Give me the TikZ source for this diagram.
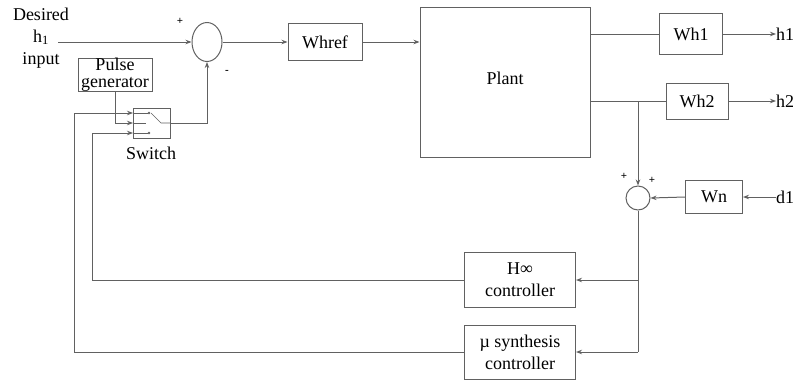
\documentclass[tikz,border=0pt]{standalone}
\usepackage{fontspec}
\setmainfont{Liberation Serif}
\usetikzlibrary{arrows.meta,shapes.geometric}
\definecolor{lc}{gray}{0.38}
\begin{document}
\begin{tikzpicture}[x=1pt,y=-1pt,
  every node/.style={font=\fontsize{18}{22}\selectfont, text=black},
  blk/.style={draw=lc, line width=1pt, inner sep=0pt, align=center},
  sumc/.style={draw=lc, line width=1pt, ellipse, inner sep=0pt},
  wire/.style={draw=lc, line width=1pt},
  arr/.style={wire, -{Stealth[length=6pt,width=4.5pt]}},
  sgn/.style={font=\fontsize{11}{12}\selectfont\bfseries, inner sep=0pt},
  lbl/.style={inner sep=0pt, align=center}
]
\useasboundingbox (0,0) rectangle (795,381);

% input label
\node[lbl] (din) at (41,38) {Desired\\h\textsubscript{1}\\input};
\coordinate (inp) at (58,42);

% blocks
\node[sumc, minimum width=30, minimum height=39] (s1) at (207,42) {};
\node[blk, minimum width=74, minimum height=37] (whref) at (325,42) {Whref};
\node[blk, minimum width=170, minimum height=150, text depth=8pt] (plant) at (505,82) {Plant};
\node[blk, minimum width=63, minimum height=41] (wh1) at (691,34) {Wh1};
\node[blk, minimum width=62, minimum height=36] (wh2) at (697,101) {Wh2};
\node[sumc, minimum width=24, minimum height=24] (s2) at (638,198) {};
\node[blk, minimum width=57, minimum height=33] (wn) at (714,197) {Wn};
\node[blk, minimum width=111, minimum height=55] (hinf) at (520,280) {H∞\\controller};
\node[blk, minimum width=111, minimum height=54] (mu) at (520,352) {µ synthesis\\controller};
\node[blk, minimum width=74, minimum height=30, font=\fontsize{18}{17}\selectfont] (pg) at (115,75) {Pulse\\generator};
\node[blk, minimum width=37, minimum height=30] (sw) at (151.5,123) {};
\node[lbl] (swl) at (151,153) {Switch};

% output labels
\node[lbl, anchor=west] (h1) at (776,34) {h1};
\node[lbl, anchor=west] (h2) at (776,101) {h2};
\node[lbl, anchor=west] (d1) at (776,197) {d1};

% signs
\node[sgn] (p1) at (180,21) {+};
\node[sgn] (m1) at (227,72) {-};
\node[sgn] (p2) at (624,176) {+};
\node[sgn] (p3) at (652,180) {+};

% switch inputs and internals
\coordinate (swin1) at (133,113);
\coordinate (swin2) at (133,123);
\coordinate (swin3) at (133,133);
\coordinate (lx1) at (92,0);
\coordinate (lx2) at (74,0);
\draw[wire, line width=0.6pt] (swin1) -- (147.5,113);
\draw[wire, line width=0.6pt] (swin2) -- (146,123);
\draw[wire, line width=0.6pt] (swin3) -- (147.5,133);
\fill[lc] (149,113) circle (1.4);
\fill[lc] (149,133) circle (1.4);
\draw[wire, line width=0.6pt] (151,113) -- (161,123) -- (sw.east);

% connections
\draw[arr] (inp) -- (s1.west);
\draw[arr] (s1.east) -- (whref.west);
\draw[arr] (whref.east) -- (whref.east -| plant.west);
\draw[wire] (wh1.west -| plant.east) -- (wh1.west);
\draw[arr] (wh1.east) -- (h1.west);
\coordinate (br) at (638,101);
\draw[wire] (wh2.west -| plant.east) -- (wh2.west);
\draw[arr] (wh2.east) -- (h2.west);
\draw[arr] (br) -- (s2.north);
\draw[arr] (d1.west) -- (wn.east);
\draw[arr] (wn.west) -- (s2.east);
\coordinate (c1) at (638,280);
\coordinate (c2) at (638,352);
\draw[wire] (s2.south) -- (c2);
\draw[arr] (c1) -- (hinf.east);
\draw[arr] (c2) -- (mu.east);
\draw[arr] (hinf.west) -| (lx1 |- swin3) -- (swin3);
\draw[arr] (mu.west) -| (lx2 |- swin1) -- (swin1);
\draw[arr] (pg.south) |- (swin2);
\draw[arr] (sw.east) -| (s1.south);
\end{tikzpicture}
\end{document}
